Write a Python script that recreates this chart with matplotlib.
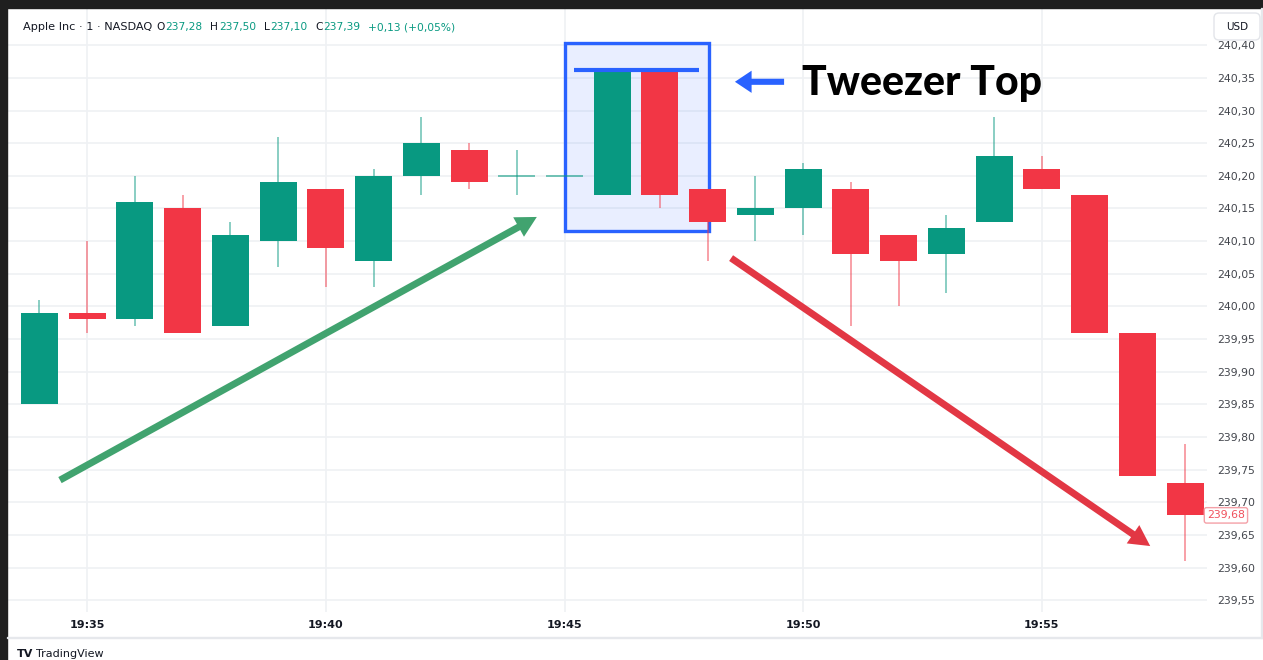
import matplotlib.pyplot as plt
from matplotlib.patches import FancyBboxPatch, Rectangle
from matplotlib.transforms import IdentityTransform, blended_transform_factory

# Apple Inc, 1-minute candles
times = ['19:34', '19:35', '19:36', '19:37', '19:38', '19:39', '19:40', '19:41', '19:42',
         '19:43', '19:44', '19:45', '19:46', '19:47', '19:48', '19:49', '19:50', '19:51',
         '19:52', '19:53', '19:54', '19:55', '19:56', '19:57', '19:58']
opens = [239.85, 239.99, 239.98, 240.15, 239.97, 240.10, 240.18, 240.07, 240.20, 240.24, 240.20,
         240.20, 240.17, 240.36, 240.18, 240.14, 240.15, 240.18, 240.11, 240.08, 240.13, 240.21,
         240.17, 239.96, 239.73]
highs = [240.01, 240.10, 240.20, 240.17, 240.13, 240.26, 240.18, 240.21, 240.29, 240.25, 240.24,
         240.20, 240.36, 240.36, 240.18, 240.20, 240.22, 240.19, 240.11, 240.14, 240.29, 240.23,
         240.17, 239.96, 239.79]
lows = [239.85, 239.96, 239.97, 239.96, 239.97, 240.06, 240.03, 240.03, 240.17, 240.18, 240.17,
        240.20, 240.17, 240.15, 240.07, 240.10, 240.11, 239.97, 240.00, 240.02, 240.13, 240.18,
        239.96, 239.74, 239.61]
closes = [239.99, 239.98, 240.16, 239.96, 240.11, 240.19, 240.09, 240.20, 240.25, 240.19, 240.20,
          240.20, 240.36, 240.17, 240.13, 240.15, 240.21, 240.08, 240.07, 240.12, 240.23, 240.18,
          239.96, 239.74, 239.68]
price_ticks = [239.55, 239.60, 239.65, 239.70, 239.75, 239.80, 239.85, 239.90, 239.95, 240.00,
               240.05, 240.10, 240.15, 240.20, 240.25, 240.30, 240.35, 240.40]
last_price = closes[-1]

UP = '#089981'
DOWN = '#f23645'
INK = '#131722'
BLUE = '#2962ff'

W, H = 1263, 660
fig = plt.figure(figsize=(W / 100, H / 100), dpi=100)
fig.patch.set_facecolor('white')
ax = fig.add_axes([7 / W, 1 - 612 / H, 1200 / W, 604 / H])
ax.set_xlim(-0.68, 24.46)
ax.set_ylim(239.532, 240.457)
for s in ax.spines.values():
    s.set_visible(False)

# time axis: label every 5 minutes
xt = [i for i, t in enumerate(times) if int(t[-2:]) % 5 == 0]
ax.set_xticks(xt)
ax.set_xticklabels([times[i] for i in xt], fontsize=8, fontweight='bold', color=INK)
ax.set_yticks(price_ticks)
ax.set_yticklabels([f'{v:.2f}'.replace('.', ',') for v in price_ticks], fontsize=7.8, color='#43464d')
ax.yaxis.tick_right()
ax.tick_params(length=0)
ax.tick_params(axis='x', pad=6)
ax.tick_params(axis='y', pad=7)
ax.grid(True, color='#eff1f4', lw=1.2, zorder=0)
ax.set_axisbelow(True)

# candles
bw = 0.775
for i, (o, h, l, c) in enumerate(zip(opens, highs, lows, closes)):
    col = UP if c >= o else DOWN
    if h > l:
        ax.vlines(i, l, h, color=col, alpha=0.6, lw=1.1, zorder=3)
    if abs(c - o) < 0.005:
        ax.hlines(o, i - bw / 2, i + bw / 2, color=col, alpha=0.6, lw=1.3, zorder=4)
    else:
        ax.bar(i, c - o, width=bw, bottom=o, color=col, lw=0, zorder=4)

# tweezer top highlight
ax.add_patch(Rectangle((11.0, 240.116), 3.02, 0.287, facecolor=BLUE, alpha=0.1, lw=0, zorder=1))
ax.add_patch(Rectangle((11.0, 240.116), 3.02, 0.287, fill=False, edgecolor=BLUE, lw=2.4, zorder=2))
ax.hlines(240.362, 11.2, 13.82, color=BLUE, lw=3, zorder=5)
ax.annotate('', xy=(14.57, 240.344), xytext=(15.6, 240.344),
            arrowprops=dict(arrowstyle='simple,head_length=0.6,head_width=0.8,tail_width=0.22',
                            color=BLUE, lw=0, shrinkA=0, shrinkB=0, mutation_scale=20))
ax.text(15.97, 240.324, 'Tweezer Top', fontfamily='Lato', fontweight='black', fontsize=29.5,
        color='black', va='baseline', ha='left')

# trend arrows
ax.annotate('', xy=(10.42, 240.137), xytext=(0.43, 239.734),
            arrowprops=dict(arrowstyle='simple,head_length=0.75,head_width=0.8,tail_width=0.25',
                            color='#41a36f', lw=0, shrinkA=0, shrinkB=0, mutation_scale=20), zorder=5)
ax.annotate('', xy=(23.27, 239.633), xytext=(14.49, 240.074),
            arrowprops=dict(arrowstyle='simple,head_length=0.75,head_width=0.8,tail_width=0.25',
                            color='#e23744', lw=0, shrinkA=0, shrinkB=0, mutation_scale=20), zorder=5)

# last price tag on the price scale
ax.text(1.0, last_price, f'{last_price:.2f}'.replace('.', ','), transform=blended_transform_factory(ax.transAxes, ax.transData),
        fontsize=7.8, color='#f0505c', ha='left', va='center', clip_on=False, zorder=6,
        bbox=dict(boxstyle='round,pad=0.25,rounding_size=0.2', fc='white', ec='#f4a0a7', lw=1))


def px(x, y):
    return x, H - y


# screenshot frame and separators
fig.add_artist(Rectangle(px(0, 8), W, 8, transform=IdentityTransform(), color='#1f1f1f', zorder=10))
fig.add_artist(Rectangle(px(0, H), 7, H, transform=IdentityTransform(), color='#1f1f1f', zorder=10))
fig.add_artist(Rectangle(px(7, 638), W - 7, 1.2, transform=IdentityTransform(), color='#e6e8ec', zorder=10))
fig.add_artist(Rectangle(px(1261, 638), 1.2, 630, transform=IdentityTransform(), color='#e6e8ec', zorder=10))

# currency box
fig.add_artist(FancyBboxPatch(px(1214, 40), 46, 27, boxstyle='round,pad=0,rounding_size=5',
                              transform=IdentityTransform(), fc='white', ec='#e3e5ea', lw=1, zorder=10))
fig.text(1237 / W, 1 - 27 / H, 'USD', fontsize=7.5, color=INK, ha='center', va='center', zorder=11)

# legend line
pieces = [('O', INK, 3), ('237,28', UP, 0.5),
          ('H', INK, 5.5), ('237,50', UP, 0.5), ('L', INK, 5.5), ('237,10', UP, 0.5),
          ('C', INK, 5.5), ('237,39', UP, 0.5), ('+0,13 (+0,05%)', UP, 5.5)]
prev = fig.text(23 / W, 1 - 27 / H, 'Apple Inc · 1 · NASDAQ', fontsize=8.1, color=INK,
                fontweight='medium', va='center')
for txt, col, gap in pieces:
    prev = ax.annotate(txt, xy=(1, 0.5), xycoords=prev, xytext=(gap, 0), textcoords='offset points',
                       fontsize=7.7, color=col, fontweight='medium', va='center', ha='left')

# branding
logo = fig.text(17 / W, 1 - 654 / H, 'TV', fontsize=8, fontweight='heavy', color=INK, va='center')
ax.annotate('TradingView', xy=(1, 0.5), xycoords=logo, xytext=(2, 0), textcoords='offset points',
            fontsize=8, color=INK, va='center', ha='left')

fig.savefig('out.png', dpi=100)
